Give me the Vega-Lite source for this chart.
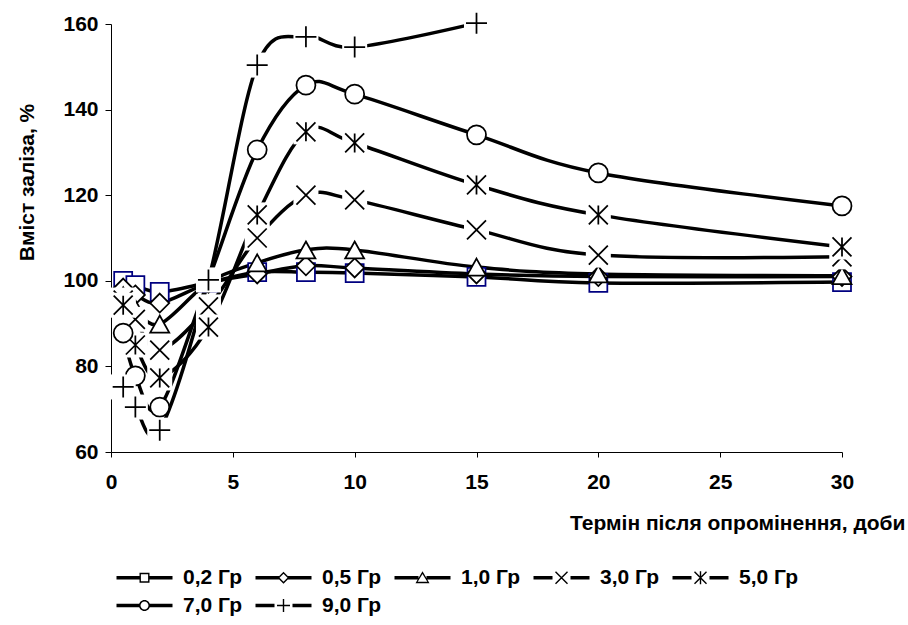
{
  "$schema": "https://vega.github.io/schema/vega-lite/v6.json",
  "width": 731,
  "height": 428,
  "autosize": "none",
  "padding": {"left": 111, "top": 24, "right": 66, "bottom": 173},
  "background": "white",
  "config": {
    "view": {"stroke": null},
    "font": "Liberation Sans",
    "axis": {
      "grid": false,
      "labelFont": "Liberation Sans",
      "titleFont": "Liberation Sans",
      "labelFontSize": 21,
      "titleFontSize": 21,
      "labelFontWeight": "bold",
      "titleFontWeight": "bold",
      "labelColor": "black",
      "titleColor": "black",
      "domainColor": "black",
      "tickColor": "black",
      "labelFlush": false,
      "labelOverlap": false
    }
  },
  "data": {
    "values": [
      {"dose": "0,2 Гр", "days": 0.5, "iron": 100},
      {"dose": "0,2 Гр", "days": 1, "iron": 99},
      {"dose": "0,2 Гр", "days": 2, "iron": 97.4},
      {"dose": "0,2 Гр", "days": 4, "iron": 99.6},
      {"dose": "0,2 Гр", "days": 6, "iron": 102},
      {"dose": "0,2 Гр", "days": 8, "iron": 102},
      {"dose": "0,2 Гр", "days": 10, "iron": 101.8},
      {"dose": "0,2 Гр", "days": 15, "iron": 100.9},
      {"dose": "0,2 Гр", "days": 20, "iron": 99.5},
      {"dose": "0,2 Гр", "days": 30, "iron": 99.7},
      {"dose": "0,5 Гр", "days": 0.5, "iron": 98.3},
      {"dose": "0,5 Гр", "days": 1, "iron": 96.7},
      {"dose": "0,5 Гр", "days": 2, "iron": 94.8},
      {"dose": "0,5 Гр", "days": 4, "iron": 99.4},
      {"dose": "0,5 Гр", "days": 6, "iron": 101.6},
      {"dose": "0,5 Гр", "days": 8, "iron": 103.5},
      {"dose": "0,5 Гр", "days": 10, "iron": 103},
      {"dose": "0,5 Гр", "days": 15, "iron": 101.6},
      {"dose": "0,5 Гр", "days": 20, "iron": 101},
      {"dose": "0,5 Гр", "days": 30, "iron": 101},
      {"dose": "1,0 Гр", "days": 0.5, "iron": 96.5},
      {"dose": "1,0 Гр", "days": 1, "iron": 93.5},
      {"dose": "1,0 Гр", "days": 2, "iron": 89.9},
      {"dose": "1,0 Гр", "days": 4, "iron": 99.6},
      {"dose": "1,0 Гр", "days": 6, "iron": 104.2},
      {"dose": "1,0 Гр", "days": 8, "iron": 107.2},
      {"dose": "1,0 Гр", "days": 10, "iron": 107.2},
      {"dose": "1,0 Гр", "days": 15, "iron": 103.2},
      {"dose": "1,0 Гр", "days": 20, "iron": 101.6},
      {"dose": "1,0 Гр", "days": 30, "iron": 101.2},
      {"dose": "3,0 Гр", "days": 0.5, "iron": 95.5},
      {"dose": "3,0 Гр", "days": 1, "iron": 91},
      {"dose": "3,0 Гр", "days": 2, "iron": 83.8},
      {"dose": "3,0 Гр", "days": 4, "iron": 93.9},
      {"dose": "3,0 Гр", "days": 6, "iron": 110},
      {"dose": "3,0 Гр", "days": 8, "iron": 120},
      {"dose": "3,0 Гр", "days": 10, "iron": 118.9},
      {"dose": "3,0 Гр", "days": 15, "iron": 111.9},
      {"dose": "3,0 Гр", "days": 20, "iron": 106},
      {"dose": "3,0 Гр", "days": 30, "iron": 105.6},
      {"dose": "5,0 Гр", "days": 0.5, "iron": 94.3},
      {"dose": "5,0 Гр", "days": 1, "iron": 85},
      {"dose": "5,0 Гр", "days": 2, "iron": 77.3},
      {"dose": "5,0 Гр", "days": 4, "iron": 89.2},
      {"dose": "5,0 Гр", "days": 6, "iron": 115.4},
      {"dose": "5,0 Гр", "days": 8, "iron": 134.8},
      {"dose": "5,0 Гр", "days": 10, "iron": 132.2},
      {"dose": "5,0 Гр", "days": 15, "iron": 122.4},
      {"dose": "5,0 Гр", "days": 20, "iron": 115.4},
      {"dose": "5,0 Гр", "days": 30, "iron": 107.9},
      {"dose": "7,0 Гр", "days": 0.5, "iron": 87.8},
      {"dose": "7,0 Гр", "days": 1, "iron": 77.8},
      {"dose": "7,0 Гр", "days": 2, "iron": 70.5},
      {"dose": "7,0 Гр", "days": 4, "iron": 100.2},
      {"dose": "7,0 Гр", "days": 6, "iron": 130.6},
      {"dose": "7,0 Гр", "days": 8, "iron": 145.7},
      {"dose": "7,0 Гр", "days": 10, "iron": 143.6},
      {"dose": "7,0 Гр", "days": 15, "iron": 134.1},
      {"dose": "7,0 Гр", "days": 20, "iron": 125.2},
      {"dose": "7,0 Гр", "days": 30, "iron": 117.5},
      {"dose": "9,0 Гр", "days": 0.5, "iron": 75.2},
      {"dose": "9,0 Гр", "days": 1, "iron": 70.5},
      {"dose": "9,0 Гр", "days": 2, "iron": 65.1},
      {"dose": "9,0 Гр", "days": 4, "iron": 100.2},
      {"dose": "9,0 Гр", "days": 6, "iron": 150.4},
      {"dose": "9,0 Гр", "days": 8, "iron": 157},
      {"dose": "9,0 Гр", "days": 10, "iron": 154.6},
      {"dose": "9,0 Гр", "days": 15, "iron": 160.2}
    ]
  },
  "encoding": {
    "x": {
      "field": "days",
      "type": "quantitative",
      "scale": {"domain": [0, 30], "nice": false},
      "axis": {
        "values": [0, 5, 10, 15, 20, 25, 30],
        "title": "Термін після опромінення, доби",
        "titleX": 794,
        "titleY": 71,
        "titleAlign": "right",
        "titleBaseline": "middle",
        "tickSize": 5,
        "labelPadding": 14
      }
    },
    "y": {
      "field": "iron",
      "type": "quantitative",
      "scale": {"domain": [60, 160], "nice": false, "zero": false},
      "axis": {
        "values": [60, 80, 100, 120, 140, 160],
        "title": "Вміст заліза, %",
        "titleX": -84,
        "titleY": 158,
        "titleAngle": 270,
        "titleAlign": "center",
        "titleBaseline": "middle",
        "tickSize": 6,
        "labelPadding": 7
      }
    }
  },
  "resolve": {"scale": {"shape": "independent"}, "legend": {"shape": "independent"}},
  "layer": [
    {
      "mark": {"type": "line", "interpolate": "cardinal", "strokeWidth": 3.5, "color": "black", "clip": false},
      "encoding": {"detail": {"field": "dose", "type": "nominal"}}
    },
    {
      "transform": [{"filter": {"field": "dose", "oneOf": ["0,2 Гр", "0,5 Гр", "1,0 Гр"]}}],
      "mark": {"type": "point", "filled": true, "fill": "white", "strokeWidth": 1.75, "opacity": 1, "size": 4, "clip": false},
      "encoding": {
        "shape": {
          "field": "dose",
          "type": "nominal",
          "scale": {
            "domain": ["0,2 Гр", "0,5 Гр", "1,0 Гр"],
            "range": [
              "M-9,-9H9V9H-9Z",
              "M0,-9.5L9.5,0L0,9.5L-9.5,0Z",
              "M0,-8.5L9.5,8.5H-9.5Z"
            ]
          },
          "legend": null
        },
        "stroke": {
          "field": "dose",
          "type": "nominal",
          "scale": {"domain": ["0,2 Гр", "0,5 Гр", "1,0 Гр"], "range": ["#000080", "black", "black"]},
          "legend": null
        }
      }
    },
    {
      "transform": [{"filter": {"field": "dose", "equal": "3,0 Гр"}}],
      "mark": {"type": "point", "shape": "M-12.5,-12.5H12.5V12.5H-12.5Z", "size": 4, "filled": true, "fill": "white", "strokeWidth": 0, "opacity": 1, "clip": false}
    },
    {
      "transform": [{"filter": {"field": "dose", "equal": "3,0 Гр"}}],
      "mark": {"type": "point", "shape": "M-9.5,-9.5L9.5,9.5M-9.5,9.5L9.5,-9.5", "size": 4, "filled": false, "stroke": "black", "strokeWidth": 1.75, "opacity": 1, "clip": false}
    },
    {
      "transform": [{"filter": {"field": "dose", "equal": "5,0 Гр"}}],
      "mark": {"type": "point", "shape": "M-12.5,-12.5H12.5V12.5H-12.5Z", "size": 4, "filled": true, "fill": "white", "strokeWidth": 0, "opacity": 1, "clip": false}
    },
    {
      "transform": [{"filter": {"field": "dose", "equal": "5,0 Гр"}}],
      "mark": {"type": "point", "shape": "M-9.5,-9.5L9.5,9.5M-9.5,9.5L9.5,-9.5M0,-9.5V9.5", "size": 4, "filled": false, "stroke": "black", "strokeWidth": 1.75, "opacity": 1, "clip": false}
    },
    {
      "transform": [{"filter": {"field": "dose", "equal": "7,0 Гр"}}],
      "mark": {"type": "point", "shape": "M-9.5,0A9.5,9.5 0 1,1 9.5,0A9.5,9.5 0 1,1 -9.5,0Z", "size": 4, "filled": true, "fill": "white", "stroke": "black", "strokeWidth": 1.75, "opacity": 1, "clip": false}
    },
    {
      "transform": [{"filter": {"field": "dose", "equal": "9,0 Гр"}}],
      "mark": {"type": "point", "shape": "M-12.5,-12.5H12.5V12.5H-12.5Z", "size": 4, "filled": true, "fill": "white", "strokeWidth": 0, "opacity": 1, "clip": false}
    },
    {
      "transform": [{"filter": {"field": "dose", "equal": "9,0 Гр"}}],
      "mark": {"type": "point", "shape": "M-10.5,0H10.5M0,-10.5V10.5", "size": 4, "filled": false, "stroke": "black", "strokeWidth": 1.75, "opacity": 1, "clip": false}
    },
    {
      "transform": [{"filter": {"field": "dose", "equal": "-"}}],
      "mark": {"type": "point", "filled": true, "color": "black", "strokeWidth": 0, "opacity": 1, "size": 4},
      "encoding": {
        "shape": {
          "field": "dose",
          "type": "nominal",
          "scale": {
            "domain": ["0,2 Гр", "0,5 Гр", "1,0 Гр", "3,0 Гр", "5,0 Гр", "7,0 Гр", "9,0 Гр"],
            "range": [
              "M-28,-1.7H-5V1.7H-28ZM5,-1.7H28V1.7H5ZM-5,-5H5V5H-5ZM-3.6,-3.6V3.6H3.6V-3.6Z",
              "M-28,-1.7H-4.5V1.7H-28ZM4.5,-1.7H28V1.7H4.5ZM0,-6L6,0L0,6L-6,0ZM0,-4L-4,0L0,4L4,0Z",
              "M-28,-1.7H-4V1.7H-28ZM4,-1.7H28V1.7H4ZM0,-6.5L7,5.5H-7ZM0,-3.7L-4.8,4.1H4.8Z",
              "M-28,-1.7H-9V1.7H-28ZM9,-1.7H28V1.7H9ZM-6.5,-5.5L5.5,6.5L6.5,5.5L-5.5,-6.5ZM-6.5,5.5L-5.5,6.5L6.5,-5.5L5.5,-6.5Z",
              "M-28,-1.7H-9V1.7H-28ZM9,-1.7H28V1.7H9ZM-6.5,-5.5L5.5,6.5L6.5,5.5L-5.5,-6.5ZM-6.5,5.5L-5.5,6.5L6.5,-5.5L5.5,-6.5ZM-0.7,-6.5V6.5H0.7V-6.5Z",
              "M-28,-1.7H-5V1.7H-28ZM5,-1.7H28V1.7H5ZM-5.5,0A5.5,5.5 0 1,1 5.5,0A5.5,5.5 0 1,1 -5.5,0ZM-4,0A4,4 0 1,0 4,0A4,4 0 1,0 -4,0Z",
              "M-28,-1.7H-9V1.7H-28ZM9,-1.7H28V1.7H9ZM-6.5,-0.7H6.5V0.7H-6.5ZM-0.7,-6.5H0.7V6.5H-0.7Z"
            ]
          },
          "legend": {
            "title": null,
            "orient": "none",
            "legendX": 23,
            "legendY": 543,
            "direction": "horizontal",
            "columns": 5,
            "padding": 0,
            "labelFont": "Liberation Sans",
            "labelFontSize": 21,
            "labelFontWeight": "bold",
            "labelColor": "black",
            "labelOffset": 28,
            "columnPadding": 13,
            "rowPadding": 6,
            "symbolSize": 4,
            "symbolStrokeWidth": 0,
            "symbolFillColor": "black",
            "symbolOpacity": 1
          }
        }
      }
    }
  ]
}
